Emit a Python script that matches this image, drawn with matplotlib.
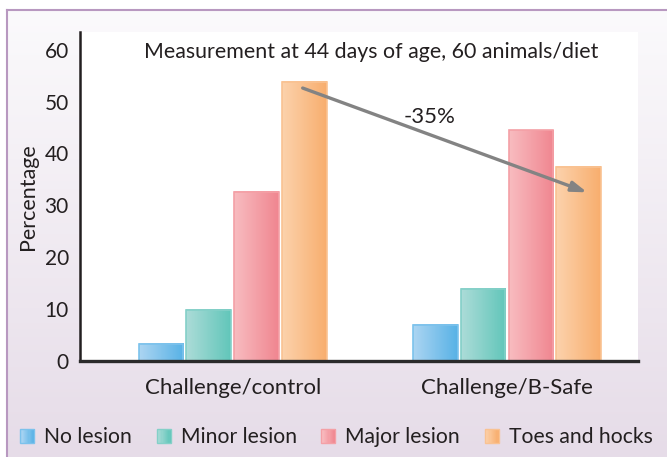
import numpy as np
import matplotlib
matplotlib.use("Agg")
import matplotlib.pyplot as plt
from matplotlib.colors import LinearSegmentedColormap, to_rgb
from matplotlib.patches import Rectangle
from matplotlib.legend_handler import HandlerBase

plt.rcParams['font.family'] = ['Lato', 'DejaVu Sans']

# ---- data -------------------------------------------------------------
groups = ["Challenge/control", "Challenge/B-Safe"]
series = ["No lesion", "Minor lesion", "Major lesion", "Toes and hocks"]
no_lesion = [3.35, 7.0]
minor_lesion = [9.9, 13.9]
major_lesion = [32.6, 44.5]
toes_hocks = [53.8, 37.4]
title = "Measurement at 44 days of age, 60 animals/diet"
change_label = "-35%"
y_ticks = [0, 10, 20, 30, 40, 50, 60]

values = [no_lesion, minor_lesion, major_lesion, toes_hocks]

# light -> dark horizontal gradient stops for each series, plus edge colour
shades = [
    ("#acd5f2", "#58b2e6", "#7cc2ec"),
    ("#acdcd8", "#62c6ba", "#84d0c8"),
    ("#f8bcc0", "#f08690", "#f4a0a6"),
    ("#fcd2ac", "#f8ae6e", "#f9c292"),
]
text_col = "#231f20"

W, H = 667, 457
fig = plt.figure(figsize=(W / 100, H / 100), dpi=100)

# framed background with soft vertical gradient
bg = fig.add_axes([7 / W, 0, 1 - 7 / W, 1 - 10 / H], zorder=-10)
grad = np.linspace(0, 1, 256).reshape(-1, 1)
bg_cmap = LinearSegmentedColormap.from_list("bg", ["#e6dce8", "#fbfafc"])
bg.imshow(grad, cmap=bg_cmap, aspect="auto", origin="lower", extent=[0, 1, 0, 1])
bg.set_xlim(0, 1)
bg.set_ylim(0, 1)
bg.axis("off")
fig.add_artist(plt.Line2D([7 / W, 7 / W], [0, 1 - 10 / H], color="#b898c0", lw=1.5,
                          transform=fig.transFigure))
fig.add_artist(plt.Line2D([7 / W, 1], [1 - 10 / H, 1 - 10 / H], color="#b898c0", lw=1.5,
                          transform=fig.transFigure))

ax = fig.add_axes([80 / W, 1 - 361 / H, (638 - 80) / W, (361 - 32) / H])
ax.set_facecolor("white")

width = 0.164
step = 0.175
x = np.arange(len(groups))
for i, (vals, (c0, c1, ec)) in enumerate(zip(values, shades)):
    offs = x + (i - 1.5) * step
    bars = ax.bar(offs, vals, width, facecolor="none", edgecolor=ec, lw=1.2, zorder=3)
    cmap = LinearSegmentedColormap.from_list(f"s{i}", [c0, c1])
    for b in bars:
        x0, w, h = b.get_x(), b.get_width(), b.get_height()
        ax.imshow(np.linspace(0, 1, 64).reshape(1, -1), cmap=cmap, aspect="auto",
                  extent=[x0, x0 + w, 0, h], zorder=2, interpolation="bilinear")

ax.set_xlim(-0.558, 1.478)
ax.set_ylim(0, 63.4)
ax.set_xticks(x)
ax.set_xticklabels(groups, fontsize=16, color=text_col)
ax.set_yticks(y_ticks)
ax.set_yticklabels([str(t) for t in y_ticks], fontsize=15, color=text_col)
ax.tick_params(axis="both", length=0)
ax.tick_params(axis="x", pad=12)
ax.tick_params(axis="y", pad=8)
for s in ["top", "right"]:
    ax.spines[s].set_visible(False)
ax.spines["left"].set_linewidth(1.8)
ax.spines["left"].set_color(text_col)
ax.spines["bottom"].set_linewidth(2.4)
ax.spines["bottom"].set_color("#2a2a2a")
ax.spines["bottom"].set_zorder(5)

ax.set_ylabel("Percentage", fontsize=15.5, color=text_col, labelpad=5)

ax.text(0.522, 0.94, title, transform=ax.transAxes, ha="center", va="center",
        fontsize=15.4, color=text_col)

# reduction arrow between the two "Toes and hocks" bars
toes_x = x + 1.5 * step
ax.annotate("", xy=(toes_x[1] + 0.03, toes_hocks[1] - 4.9),
            xytext=(toes_x[0] - 0.008, toes_hocks[0] - 1.2),
            arrowprops=dict(arrowstyle="-|>,head_length=0.9,head_width=0.3",
                            color="#838383", lw=2.4, shrinkA=0, shrinkB=0),
            zorder=6)
ax.text(0.719, 47.0, change_label, ha="center", va="center", fontsize=16,
        color=text_col, zorder=6)


class GradientHandler(HandlerBase):
    def __init__(self, c0, c1, ec):
        super().__init__()
        self.c0, self.c1, self.ec = to_rgb(c0), to_rgb(c1), ec

    def create_artists(self, legend, orig_handle, xdescent, ydescent, width, height,
                       fontsize, trans):
        side = height * 0.95
        x0 = -xdescent + (width - side) / 2
        y0 = -ydescent + (height - side) / 2
        arts = []
        n = 12
        for k in range(n):
            t = k / (n - 1)
            col = tuple(a + (b - a) * t for a, b in zip(self.c0, self.c1))
            arts.append(Rectangle((x0 + side * k / n, y0), side / n + 0.3, side,
                                  facecolor=col, edgecolor="none", transform=trans))
        arts.append(Rectangle((x0, y0), side, side, facecolor="none",
                              edgecolor=self.ec, lw=1.0, transform=trans))
        return arts


handles = [Rectangle((0, 0), 1, 1) for _ in series]
hmap = {h: GradientHandler(*s) for h, s in zip(handles, shades)}
fig.legend(handles, series, handler_map=hmap, loc="center", ncol=4,
           bbox_to_anchor=(0.504, 1 - 437 / H), frameon=False, fontsize=15.2,
           handlelength=0.7, handleheight=0.7, handletextpad=0.45,
           columnspacing=1.15, labelcolor=text_col)

fig.savefig("out.png", dpi=100)
